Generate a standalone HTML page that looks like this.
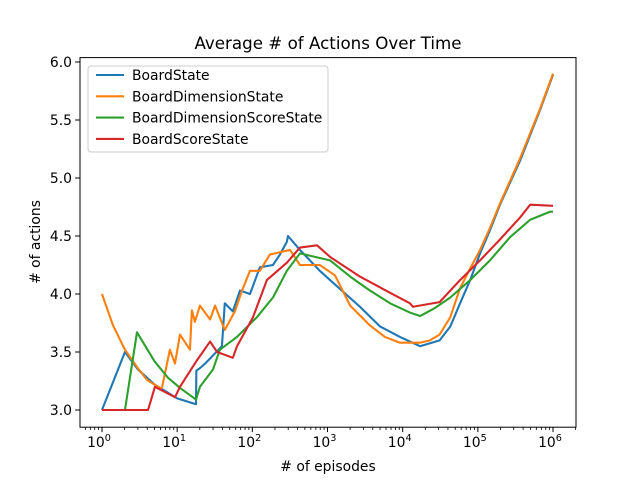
<!DOCTYPE html>
<html><head><meta charset="utf-8"><style>
body{margin:0;background:#fff}
svg text{font-family:"DejaVu Sans","Liberation Sans",sans-serif;fill:#000}
</style></head><body>
<svg id="chart" width="640" height="480" xmlns="http://www.w3.org/2000/svg">
<rect x="0" y="0" width="640" height="480" fill="#fff"/>
<text x="328" y="49" font-size="16.7" text-anchor="middle">Average # of Actions Over Time</text>
<g id="plot"></g>
<text x="328" y="471" font-size="13.9" text-anchor="middle"># of episodes</text>
<text transform="translate(40,242) rotate(-90)" font-size="13.9" text-anchor="middle"># of actions</text>
</svg>
<script>
const seriesNames=["BoardState","BoardDimensionState","BoardDimensionScoreState","BoardScoreState"];
const seriesColors=["#1f77b4","#ff7f0e","#2ca02c","#d62728"];
const blueEps=[1,2.02,3,5,10,17.8,18,20,23.5,39.4,43,55,68.5,93,126,188,233,288,298,430,790,1080,2700,5000,9200,17000,31000,43000,58000,79000,107000,145000,197000,365000,675000,1e6];
const blueVals=[3.0,3.5,3.35,3.22,3.1,3.05,3.34,3.36,3.4,3.55,3.92,3.85,4.03,4.0,4.23,4.25,4.34,4.45,4.5,4.38,4.2,4.12,3.89,3.72,3.63,3.55,3.6,3.72,3.92,4.12,4.35,4.55,4.77,5.15,5.59,5.89];
const orangeEps=[1,1.4,2.02,3,3.97,5.9,6.27,8,9.35,10.9,14.8,15.7,17.2,20.1,27.4,31.9,43,58.6,73,93,126,171,317,430,790,1260,2000,3660,5800,9200,17000,23000,31000,43000,58000,79000,107000,145000,197000,365000,675000,1e6];
const orangeVals=[4.0,3.73,3.52,3.36,3.26,3.19,3.19,3.52,3.4,3.65,3.52,3.86,3.76,3.9,3.78,3.9,3.69,3.85,4.03,4.2,4.2,4.34,4.38,4.25,4.25,4.16,3.9,3.73,3.63,3.58,3.58,3.6,3.65,3.8,4.05,4.22,4.38,4.57,4.78,5.17,5.6,5.9];
const greenEps=[1,2.02,2.92,5,7.5,10.9,17.8,18.4,20.1,30,37,62.5,115,188,288,430,1080,2000,3660,6800,12500,17000,27000,43000,79000,145000,268000,497000,920000,1e6];
const greenVals=[3.0,3.0,3.67,3.42,3.28,3.19,3.09,3.12,3.2,3.35,3.52,3.63,3.8,3.97,4.2,4.35,4.29,4.15,4.03,3.92,3.84,3.81,3.88,3.97,4.12,4.29,4.49,4.64,4.71,4.71];
const redEps=[1,3.85,4.1,5.06,9.35,10.9,18.4,27.4,34,55,62.5,102,156,288,430,725,1080,2700,6800,12500,13700,31000,58000,107000,197000,365000,497000,1e6];
const redVals=[3.0,3.0,3.0,3.2,3.11,3.2,3.43,3.59,3.5,3.45,3.55,3.8,4.12,4.27,4.4,4.42,4.32,4.15,4.01,3.92,3.89,3.93,4.12,4.29,4.47,4.66,4.77,4.76];
const yTicks=[3.0,3.5,4.0,4.5,5.0,5.5,6.0];
const xTickExps=[0,1,2,3,4,5,6];

const L=80,R=576,T=57.6,B=427.2;
const xs=v=>102+Math.log10(v)*75.17;
const ys=v=>410-(v-3)*116;
const NS="http://www.w3.org/2000/svg";
const g=document.getElementById('plot');
function mk(tag,attrs){const e=document.createElementNS(NS,tag);for(const k in attrs)e.setAttribute(k,attrs[k]);g.appendChild(e);return e;}

const defs=mk('defs',{});
const cp=document.createElementNS(NS,'clipPath');cp.setAttribute('id','clip');
const cr=document.createElementNS(NS,'rect');cr.setAttribute('x',L);cr.setAttribute('y',T);cr.setAttribute('width',R-L);cr.setAttribute('height',B-T);
cp.appendChild(cr);defs.appendChild(cp);

const allEps=[blueEps,orangeEps,greenEps,redEps];
const allVals=[blueVals,orangeVals,greenVals,redVals];
const lineNames=['line-boardstate','line-boarddimensionstate','line-boarddimensionscorestate','line-boardscorestate'];
for(let s=0;s<4;s++){
  const d=allEps[s].map((e,i)=>(i?'L':'M')+xs(e).toFixed(2)+' '+ys(allVals[s][i]).toFixed(2)).join(' ');
  const p=mk('path',{d:d,fill:'none',stroke:seriesColors[s],'stroke-width':2.1,'stroke-linejoin':'round','clip-path':'url(#clip)'});
  
  
}
const fr=mk('rect',{x:L,y:T,width:R-L,height:B-T,fill:'none',stroke:'#000','stroke-width':1});


yTicks.forEach(v=>{
  const y=ys(v);
  const t=mk('line',{x1:L-4.9,x2:L,y1:y,y2:y,stroke:'#000','stroke-width':1});
  
  
  const tx=mk('text',{x:L-8,y:y+5,'font-size':13.9,'text-anchor':'end'});
  tx.textContent=v.toFixed(1);
  
  
});
for(let k=-1;k<=6;k++){
  for(let m=2;m<=9;m++){
    const x=xs(m*Math.pow(10,k));
    if(x<L||x>R)continue;
    const t=mk('line',{x1:x,x2:x,y1:B,y2:B+2.8,stroke:'#000','stroke-width':0.8});
    
    
  }
}
xTickExps.forEach(k=>{
  const x=xs(Math.pow(10,k));
  const t=mk('line',{x1:x,x2:x,y1:B,y2:B+4.9,stroke:'#000','stroke-width':1});
  
  
  const tx=mk('text',{x:x-3,y:B+20,'font-size':13.9,'text-anchor':'middle'});
  
  
  tx.textContent='10';
  const sup=document.createElementNS(NS,'tspan');
  sup.setAttribute('dy','-6');sup.setAttribute('font-size','9.7');sup.textContent=String(k);
  tx.appendChild(sup);
});
const lg=mk('rect',{x:88,y:66,width:240,height:86,rx:3,fill:'#fff','fill-opacity':0.8,stroke:'#ccc','stroke-width':1});


seriesNames.forEach((n,i)=>{
  const y=75+i*21.3;
  const l=mk('line',{x1:96,x2:124,y1:y,y2:y,stroke:seriesColors[i],'stroke-width':2.1});
  
  
  const t=mk('text',{x:132,y:y+5,'font-size':13.9});
  t.textContent=n;
  
  
});
</script>
</body></html>
